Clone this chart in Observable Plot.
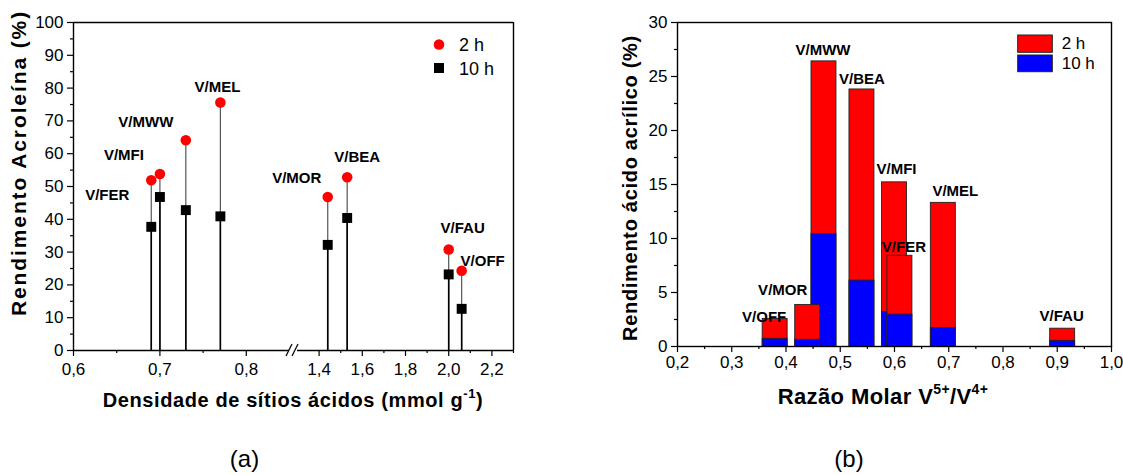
<!DOCTYPE html>
<html><head><meta charset="utf-8">
<script src="https://cdn.jsdelivr.net/npm/d3@7"></script>
<script src="https://cdn.jsdelivr.net/npm/@observablehq/plot@0.6"></script>
<style>
body{margin:0;background:#fff;}
#wrap{position:relative;width:1123px;height:475px;overflow:hidden;background:#fff;}
</style></head><body><div id="wrap"></div>
<script>
// ---------- data ----------
const samples   = ["V/FER","V/MFI","V/MWW","V/MEL","V/MOR","V/BEA","V/FAU","V/OFF"];
// panel (a): acid-site density vs acrolein yield
const density   = [0.69, 0.70, 0.73, 0.77, 1.44, 1.53, 2.00, 2.06];
const acro2h    = [51.9, 53.8, 64.1, 75.6, 46.8, 52.8, 30.8, 24.3];
const acro10h   = [37.7, 46.8, 42.8, 40.9, 32.2, 40.4, 23.2, 12.7];
// panel (b): V5+/V4+ molar ratio vs acrylic acid yield
const ratio     = [0.61, 0.60, 0.47, 0.69, 0.44, 0.54, 0.91, 0.38];
const acr2h     = [8.4, 15.2, 26.4, 13.3, 3.85, 23.8, 1.65, 2.55];
const acr10h    = [2.95, 3.2, 10.4, 1.7, 0.62, 6.1, 0.52, 0.71];
const series    = ["2 h", "10 h"];
// ticks
const xTicksA = [0.6, 0.7, 0.8, 1.4, 1.6, 1.8, 2.0, 2.2];
const xMinorA = [0.65, 0.75, 1.5, 1.7, 1.9, 2.1, 2.3];
const yTicksA = [0, 10, 20, 30, 40, 50, 60, 70, 80, 90, 100];
const yMinorA = [5, 15, 25, 35, 45, 55, 65, 75, 85, 95];
const xTicksB = [0.2, 0.3, 0.4, 0.5, 0.6, 0.7, 0.8, 0.9, 1.0];
const xMinorB = [0.25, 0.35, 0.45, 0.55, 0.65, 0.75, 0.85, 0.95];
const yTicksB = [0, 5, 10, 15, 20, 25, 30];
const yMinorB = [2.5, 7.5, 12.5, 17.5, 22.5, 27.5];

// ---------- helpers ----------
const FONT = 'Arial, "Liberation Sans", sans-serif';
const fmt = d => d.toFixed(1).replace(".", ",");
const wrap = document.getElementById("wrap");
const RED = "#ff0000", BLUE = "#0000ff";

// broken x axis for panel (a): [0.6, 0.85] then [1.3, 2.3] compressed 4x
const BREAK_LO = 0.85, BREAK_HI = 1.3, GAP = 0.00925, SQUEEZE = 4;
const brk = d => d <= BREAK_LO ? d : BREAK_LO + GAP + (d - BREAK_HI) / SQUEEZE;

// ---------- panel (a) ----------
const rowsA = samples.map((s, i) => ({s, x: density[i], y2: acro2h[i], y10: acro10h[i]}));
const offA = {"V/FER":[-44,15],"V/MFI":[-36,-19],"V/MWW":[-40,-18],"V/MEL":[-3,-15],
              "V/MOR":[-31,-19],"V/BEA":[10,-20],"V/FAU":[14,-21],"V/OFF":[21,-10]};
const plotA = Plot.plot({
  width: 560, height: 475,
  marginTop: 22, marginBottom: 125, marginLeft: 73, marginRight: 47,
  style: {fontFamily: FONT, color: "#000", background: "transparent", overflow: "visible"},
  x: {transform: brk, domain: [0.6, brk(2.3)], label: null},
  y: {domain: [0, 100], label: null},
  marks: [
    Plot.axisY(yMinorA, {tickSize: 3, tickFormat: () => "", strokeWidth: 1.2}),
    Plot.axisY(yTicksA, {tickSize: 6, tickPadding: 4, fontSize: 17, tickFormat: d => String(d), strokeWidth: 1.2}),
    Plot.axisX(xMinorA, {tickSize: 3, tickFormat: () => "", strokeWidth: 1.2}),
    Plot.axisX(xTicksA, {tickSize: 6, tickPadding: 6, fontSize: 17, tickFormat: fmt, strokeWidth: 1.2}),
    Plot.ruleY([{y: 0, a: 0.6, b: BREAK_LO}, {y: 0, a: BREAK_HI, b: 2.3}, {y: 100, a: 0.6, b: 2.3}],
      {y: "y", x1: "a", x2: "b", stroke: "#000", strokeWidth: 1.4}),
    Plot.ruleX([0.6, 2.3], {y1: 0, y2: 100, stroke: "#000", strokeWidth: 1.4}),
    Plot.ruleX(rowsA, {x: "x", y1: 0, y2: "y2", stroke: "#555", strokeWidth: 1.2}),
    Plot.ruleX(rowsA, {x: "x", y1: 0, y2: "y10", stroke: "#000", strokeWidth: 1.6}),
    Plot.dot(rowsA, {x: "x", y: "y2", r: 5.3, fill: RED}),
    Plot.dot(rowsA, {x: "x", y: "y10", symbol: "square", r: 5.6, fill: "#000"}),
    ...samples.map(s => Plot.text(rowsA.filter(d => d.s === s), {
      x: "x", y: "y2", text: "s", dx: offA[s][0], dy: offA[s][1],
      fontSize: 15, fontWeight: "bold", fill: "#000"}))
  ]
});
plotA.style.position = "absolute"; plotA.style.left = "0px"; plotA.style.top = "0px";
wrap.appendChild(plotA);

// ---------- panel (b) ----------
const HW = 0.023;
const rowsB = d3.sort(samples.map((s, i) => ({s, x: ratio[i], v2: acr2h[i], v10: acr10h[i]})), d => -d.v2);
const bars = rowsB.flatMap(d => [{s: d.s, x: d.x, v: d.v2, k: series[0]}, {s: d.s, x: d.x, v: d.v10, k: series[1]}]);
const offB = {"V/OFF":[-11,-2],"V/MOR":[-25,-15],"V/MWW":[-1,-11],"V/BEA":[0,-10],
              "V/MFI":[2,-13],"V/FER":[4,-9],"V/MEL":[12,-12],"V/FAU":[-1,-12]};
const plotB = Plot.plot({
  width: 563, height: 475,
  marginTop: 22, marginBottom: 129, marginLeft: 117, marginRight: 12,
  style: {fontFamily: FONT, color: "#000", background: "transparent", overflow: "visible"},
  x: {domain: [0.2, 1.0], label: null},
  y: {domain: [0, 30], label: null},
  color: {domain: series, range: [RED, BLUE]},
  marks: [
    Plot.axisY(yMinorB, {tickSize: 3, tickFormat: () => "", strokeWidth: 1.2}),
    Plot.axisY(yTicksB, {tickSize: 6, tickPadding: 4, fontSize: 17, tickFormat: d => String(d), strokeWidth: 1.2}),
    Plot.axisX(xMinorB, {tickSize: 3, tickFormat: () => "", strokeWidth: 1.2}),
    Plot.axisX(xTicksB, {tickSize: 6, tickPadding: 3, fontSize: 17, tickFormat: fmt, strokeWidth: 1.2}),
    Plot.rect(bars, {x1: d => d.x - HW, x2: d => d.x + HW, y1: 0, y2: "v", fill: "k", stroke: "#222", strokeWidth: 0.9}),
    ...samples.map(s => Plot.text(rowsB.filter(d => d.s === s), {
      x: "x", y: "v2", text: "s", dx: offB[s][0], dy: offB[s][1],
      fontSize: 15, fontWeight: "bold", fill: "#000"})),
    Plot.frame({stroke: "#000", strokeWidth: 1.4})
  ]
});
plotB.style.position = "absolute"; plotB.style.left = "560px"; plotB.style.top = "0px";
wrap.appendChild(plotB);

// ---------- overlay: titles, legends, axis break ----------
const ov = d3.select(wrap).append("svg")
  .attr("width", 1123).attr("height", 475)
  .style("position", "absolute").style("left", "0px").style("top", "0px")
  .style("font-family", FONT).style("pointer-events", "none");

// axis break marks on panel (a)
const sx = plotA.scale("x");
const pxLo = sx.apply(BREAK_LO);
const pxPerUnit = (sx.range[1] - sx.range[0]) / (sx.domain[1] - sx.domain[0]);
const cx = pxLo + GAP * pxPerUnit / 2 - 1;
[-6, 0].forEach(o => ov.append("line")
  .attr("x1", cx + o).attr("y1", 356).attr("x2", cx + o + 6).attr("y2", 344)
  .attr("stroke", "#000").attr("stroke-width", 1.2));

// y titles
ov.append("text").attr("transform", "translate(26,163) rotate(-90)")
  .attr("text-anchor", "middle").attr("font-size", 21).attr("font-weight", "bold")
  .attr("letter-spacing", 1.9).text("Rendimento Acroleína (%)");
ov.append("text").attr("transform", "translate(637,188) rotate(-90)")
  .attr("text-anchor", "middle").attr("font-size", 20).attr("font-weight", "bold")
  .attr("letter-spacing", 0.7).text("Rendimento ácido acrílico (%)");

// x titles
const tA = ov.append("text").attr("x", 293).attr("y", 407).attr("text-anchor", "middle")
  .attr("font-size", 20).attr("font-weight", "bold").attr("letter-spacing", 0.6);
tA.append("tspan").text("Densidade de sítios ácidos (mmol g");
tA.append("tspan").attr("font-size", 13).attr("dy", -9).text("-1");
tA.append("tspan").attr("dy", 9).text(")");
const tB = ov.append("text").attr("x", 883).attr("y", 404).attr("text-anchor", "middle")
  .attr("font-size", 22).attr("font-weight", "bold").attr("letter-spacing", 0.4);
tB.append("tspan").text("Razão Molar V");
tB.append("tspan").attr("font-size", 14).attr("dy", -10).text("5+");
tB.append("tspan").attr("dy", 10).text("/V");
tB.append("tspan").attr("font-size", 14).attr("dy", -10).text("4+");

// panel captions
ov.append("text").attr("x", 244.5).attr("y", 467).attr("text-anchor", "middle").attr("font-size", 24).text("(a)");
ov.append("text").attr("x", 849).attr("y", 467).attr("text-anchor", "middle").attr("font-size", 24).text("(b)");

// legend (a)
ov.append("circle").attr("cx", 439).attr("cy", 44.5).attr("r", 5.3).attr("fill", RED);
ov.append("rect").attr("x", 434).attr("y", 63).attr("width", 10).attr("height", 10).attr("fill", "#000");
ov.append("text").attr("x", 459).attr("y", 50.5).attr("font-size", 18).text(series[0]);
ov.append("text").attr("x", 459).attr("y", 75).attr("font-size", 18).text(series[1]);

// legend (b)
ov.append("rect").attr("x", 1017.7).attr("y", 35).attr("width", 34.6).attr("height", 17.3)
  .attr("fill", RED).attr("stroke", "#222").attr("stroke-width", 1);
ov.append("rect").attr("x", 1017.7).attr("y", 55).attr("width", 34.6).attr("height", 16.7)
  .attr("fill", BLUE).attr("stroke", "#222").attr("stroke-width", 1);
ov.append("text").attr("x", 1061.7).attr("y", 49.3).attr("font-size", 17).text(series[0]);
ov.append("text").attr("x", 1061.7).attr("y", 69.3).attr("font-size", 17).text(series[1]);
</script>
</body></html>
